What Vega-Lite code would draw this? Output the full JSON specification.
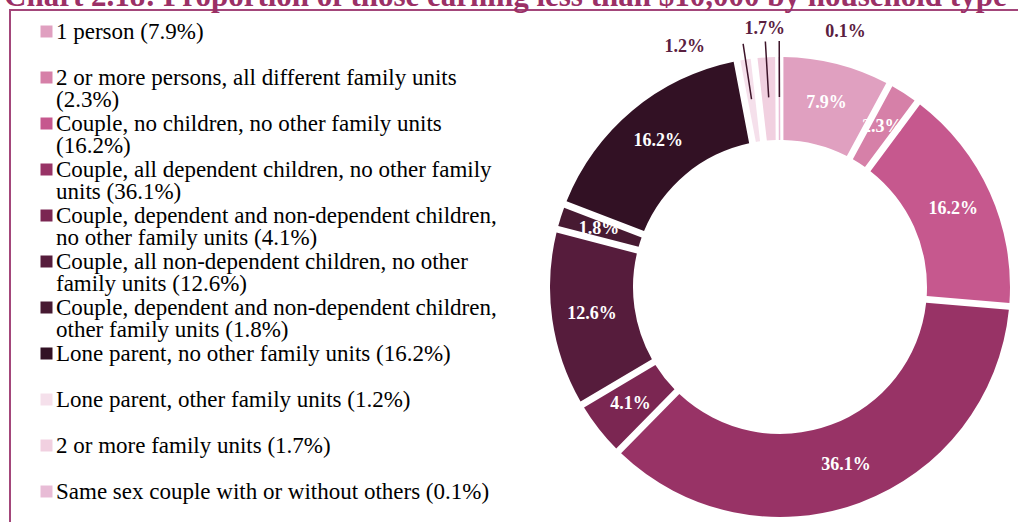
{
  "$schema": "https://vega.github.io/schema/vega-lite/v6.json",
  "width": 1540,
  "height": 554,
  "autosize": {"type": "none"},
  "padding": {"left": 10, "top": 10, "right": 0, "bottom": 0},
  "background": "white",
  "view": {"stroke": "#a3467a", "strokeWidth": 2},
  "config": {"view": {"stroke": "#a3467a", "strokeWidth": 2}, "style": {"guide-label": {"lineHeight": 22.5}}},
  "title": {
    "text": "Chart 2.18: Proportion of those earning less than $10,000 by household type",
    "anchor": "start",
    "frame": "bounds",
    "font": "Liberation Serif",
    "fontSize": 31,
    "fontWeight": "bold",
    "color": "#9b3066",
    "dx": -6,
    "offset": -3
  },
  "data": {
    "values": [
      {"category": "1 person (7.9%)", "share": 0.079},
      {"category": "2 or more persons, all different family units\n(2.3%)", "share": 0.023},
      {"category": "Couple, no children, no other family units\n(16.2%)", "share": 0.162},
      {"category": "Couple, all dependent children, no other family\nunits (36.1%)", "share": 0.361},
      {"category": "Couple, dependent and non-dependent children,\nno other family units (4.1%)", "share": 0.041},
      {"category": "Couple, all non-dependent children, no other\nfamily units (12.6%)", "share": 0.126},
      {"category": "Couple, dependent and non-dependent children,\nother family units (1.8%)", "share": 0.018},
      {"category": "Lone parent, no other family units (16.2%)", "share": 0.162},
      {"category": "Lone parent, other family units (1.2%)", "share": 0.012},
      {"category": "2 or more family units (1.7%)", "share": 0.017},
      {"category": "Same sex couple with or without others (0.1%)", "share": 0.001}
    ]
  },
  "transform": [{"window": [{"op": "row_number", "as": "rank"}]}],
  "encoding": {
    "theta": {"field": "share", "type": "quantitative", "stack": true},
    "order": {"field": "rank", "type": "quantitative"}
  },
  "layer": [
    {
      "mark": {"type": "arc", "outerRadius": 230, "innerRadius": 147, "padAngle": 0.025},
      "encoding": {
        "color": {
          "field": "category",
          "type": "nominal",
          "sort": null,
          "scale": {"range": ["#e0a0c0", "#d680a8", "#c6588e", "#983366", "#7b2652", "#561c3c", "#471a32", "#321124", "#f5e0eb", "#f1d0e0", "#e8bcd6"]},
          "legend": {
            "title": null,
            "orient": "none",
            "legendX": 25,
            "legendY": 10,
            "padding": 0,
            "symbolType": "square",
            "symbolSize": 144,
            "symbolStrokeWidth": 0,
            "labelFont": "Liberation Serif",
            "labelFontSize": 23,
            "labelColor": "#000000",
            "labelLimit": 0,
            "labelOffset": -2,
            "rowPadding": 0,
            "labelExpr": "indexof(datum.label, '\\n') >= 0 ? split(datum.label, '\\n') : [datum.label, '']"
          }
        },
        "stroke": {"condition": {"test": "datum.share < 0.005", "value": "#e8bcd6"}, "value": "transparent"},
        "strokeWidth": {"value": 1.5}
      }
    },
    {
      "mark": {"type": "arc", "outerRadius": 246, "innerRadius": 190, "padAngle": 0.6, "filled": false, "strokeWidth": 1.5},
      "encoding": {
        "detail": {"field": "category", "type": "nominal"},
        "stroke": {"condition": {"test": "datum.share < 0.0175", "value": "#3d1429"}, "value": "transparent"}
      }
    },
    {
      "mark": {"type": "text", "radius": 190, "font": "Liberation Serif", "fontSize": 18, "fontWeight": "bold", "color": "#ffffff"},
      "encoding": {
        "detail": {"field": "category", "type": "nominal"},
        "text": {"field": "share", "type": "quantitative", "format": ".1%"},
        "opacity": {"condition": {"test": "datum.share >= 0.0175", "value": 1}, "value": 0}
      }
    },
    {
      "mark": {"type": "text", "radius": 246, "font": "Liberation Serif", "fontSize": 18, "fontWeight": "bold", "color": "#5a2040", "align": "right", "dx": -38, "dy": 3},
      "encoding": {
        "detail": {"field": "category", "type": "nominal"},
        "text": {"field": "share", "type": "quantitative", "format": ".1%"},
        "opacity": {"condition": {"test": "datum.rank == 9", "value": 1}, "value": 0}
      }
    },
    {
      "mark": {"type": "text", "radius": 258, "font": "Liberation Serif", "fontSize": 18, "fontWeight": "bold", "color": "#5a2040", "align": "center"},
      "encoding": {
        "detail": {"field": "category", "type": "nominal"},
        "text": {"field": "share", "type": "quantitative", "format": ".1%"},
        "opacity": {"condition": {"test": "datum.rank == 10", "value": 1}, "value": 0}
      }
    },
    {
      "mark": {"type": "text", "radius": 255, "font": "Liberation Serif", "fontSize": 18, "fontWeight": "bold", "color": "#5a2040", "align": "left", "dx": 46},
      "encoding": {
        "detail": {"field": "category", "type": "nominal"},
        "text": {"field": "share", "type": "quantitative", "format": ".1%"},
        "opacity": {"condition": {"test": "datum.rank == 11", "value": 1}, "value": 0}
      }
    }
  ]
}
